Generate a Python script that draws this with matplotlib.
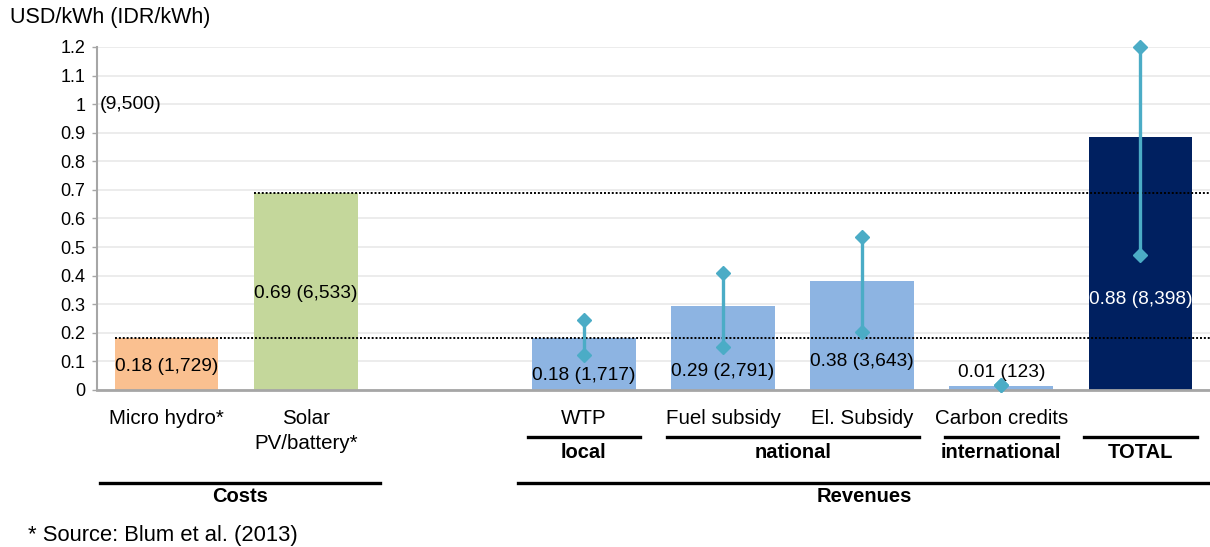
import matplotlib
matplotlib.use("Agg")
import matplotlib.pyplot as plt
import matplotlib.transforms as mtransforms

plt.rcParams['font.family'] = ['Liberation Sans', 'DejaVu Sans']

# data (USD/kWh, IDR/kWh in brackets)
categories = ['Micro hydro*', 'Solar\nPV/battery*', 'WTP', 'Fuel subsidy',
              'El. Subsidy', 'Carbon credits', '']
slots = [0, 1, 3, 4, 5, 6, 7]
values = [0.182, 0.688, 0.181, 0.294, 0.383, 0.013, 0.884]
idr = ['1,729', '6,533', '1,717', '2,791', '3,643', '123', '8,398']
err_lo = [None, None, 0.122, 0.152, 0.202, 0.017, 0.472]
err_hi = [None, None, 0.245, 0.410, 0.536, 0.017, 1.200]
label_y = [0.082, 0.336, 0.050, 0.066, 0.099, 0.060, 0.318]
colors = ['#FAC090', '#C4D79B', '#8DB4E2', '#8DB4E2', '#8DB4E2', '#8DB4E2', '#002060']
groups = [('local', 3, 3), ('national', 4, 5), ('international', 6, 6), ('TOTAL', 7, 7)]
sections = [('Costs', -0.478, 1.535), ('Revenues', 2.527, 7.5)]

W, H = 1210, 547
fig = plt.figure(figsize=(W / 100, H / 100), dpi=100)
ax = fig.add_axes([97 / W, 1 - 390 / H, (W - 97) / W, 343 / H])

bw = 0.745
ax.bar(slots, values, width=bw, color=colors, zorder=2)

# dotted reference lines from the cost bars
ax.plot([slots[0] - bw / 2, 7.5], [values[0]] * 2, ls=(0, (1, 1)), color='black', lw=1.4, zorder=4)
ax.plot([slots[1] - bw / 2, 7.5], [values[1]] * 2, ls=(0, (1, 1)), color='black', lw=1.4, zorder=4)

for x, lo, hi in zip(slots, err_lo, err_hi):
    if lo is None:
        continue
    ax.plot([x, x], [lo, hi], color='#4BACC6', lw=2.4, marker='D', ms=7,
            zorder=5, clip_on=False)

for x, v, s, ly, c in zip(slots, values, idr, label_y, colors):
    tc = 'white' if c == '#002060' else 'black'
    ax.text(x, ly, f'{v:.2f} ({s})', ha='center', va='center', fontsize=13.8,
            color=tc, zorder=6)

ax.text(-0.48, 1.0, '(9,500)', ha='left', va='center', fontsize=14)

ax.set_xlim(-0.5, 7.5)
ax.set_ylim(0, 1.2)
ax.set_yticks([i / 10 for i in range(13)])
ax.set_yticklabels(['0', '0.1', '0.2', '0.3', '0.4', '0.5', '0.6', '0.7', '0.8',
                    '0.9', '1', '1.1', '1.2'])
ax.set_xticks([])
ax.tick_params(axis='y', length=3.5, width=1, color='#A6A6A6', labelsize=13, pad=5)
ax.grid(axis='y', color='#EBEBEB', lw=1.3, zorder=0)
ax.set_axisbelow(True)
for sp in ['top', 'right']:
    ax.spines[sp].set_visible(False)
ax.spines['left'].set_color('#A6A6A6')
ax.spines['left'].set_linewidth(1.5)
ax.spines['bottom'].set_color('#A6A6A6')
ax.spines['bottom'].set_linewidth(2)

fig.text(10 / W, 1 - 18 / H, 'USD/kWh (IDR/kWh)', ha='left', va='center', fontsize=15.5)

# category / group / section labels below the axis
tr = mtransforms.blended_transform_factory(ax.transData, fig.transFigure)
fy = lambda py: 1 - py / H

for x, cat in zip(slots, categories):
    if cat:
        fig.text(x, fy(409), cat, transform=tr, ha='center', va='top',
                 fontsize=14.8, linespacing=1.4)

hw = 0.405
for name, a, b in groups:
    fig.add_artist(plt.Line2D([a - hw, b + hw], [fy(436.5)] * 2, transform=tr,
                              color='black', lw=2.4))
    fig.text((a + b) / 2, fy(453), name, transform=tr, ha='center', va='center',
             fontsize=14.5, fontweight='bold')

for name, a, b in sections:
    fig.add_artist(plt.Line2D([a, b], [fy(482.5)] * 2, transform=tr,
                              color='black', lw=2.4))
    fig.text((a + b) / 2, fy(497), name, transform=tr, ha='center', va='center',
             fontsize=14.5, fontweight='bold')

fig.text(28 / W, fy(535), '* Source: Blum et al. (2013)', ha='left', va='center',
         fontsize=15.8)

fig.savefig('out.png', dpi=100, facecolor='white')
